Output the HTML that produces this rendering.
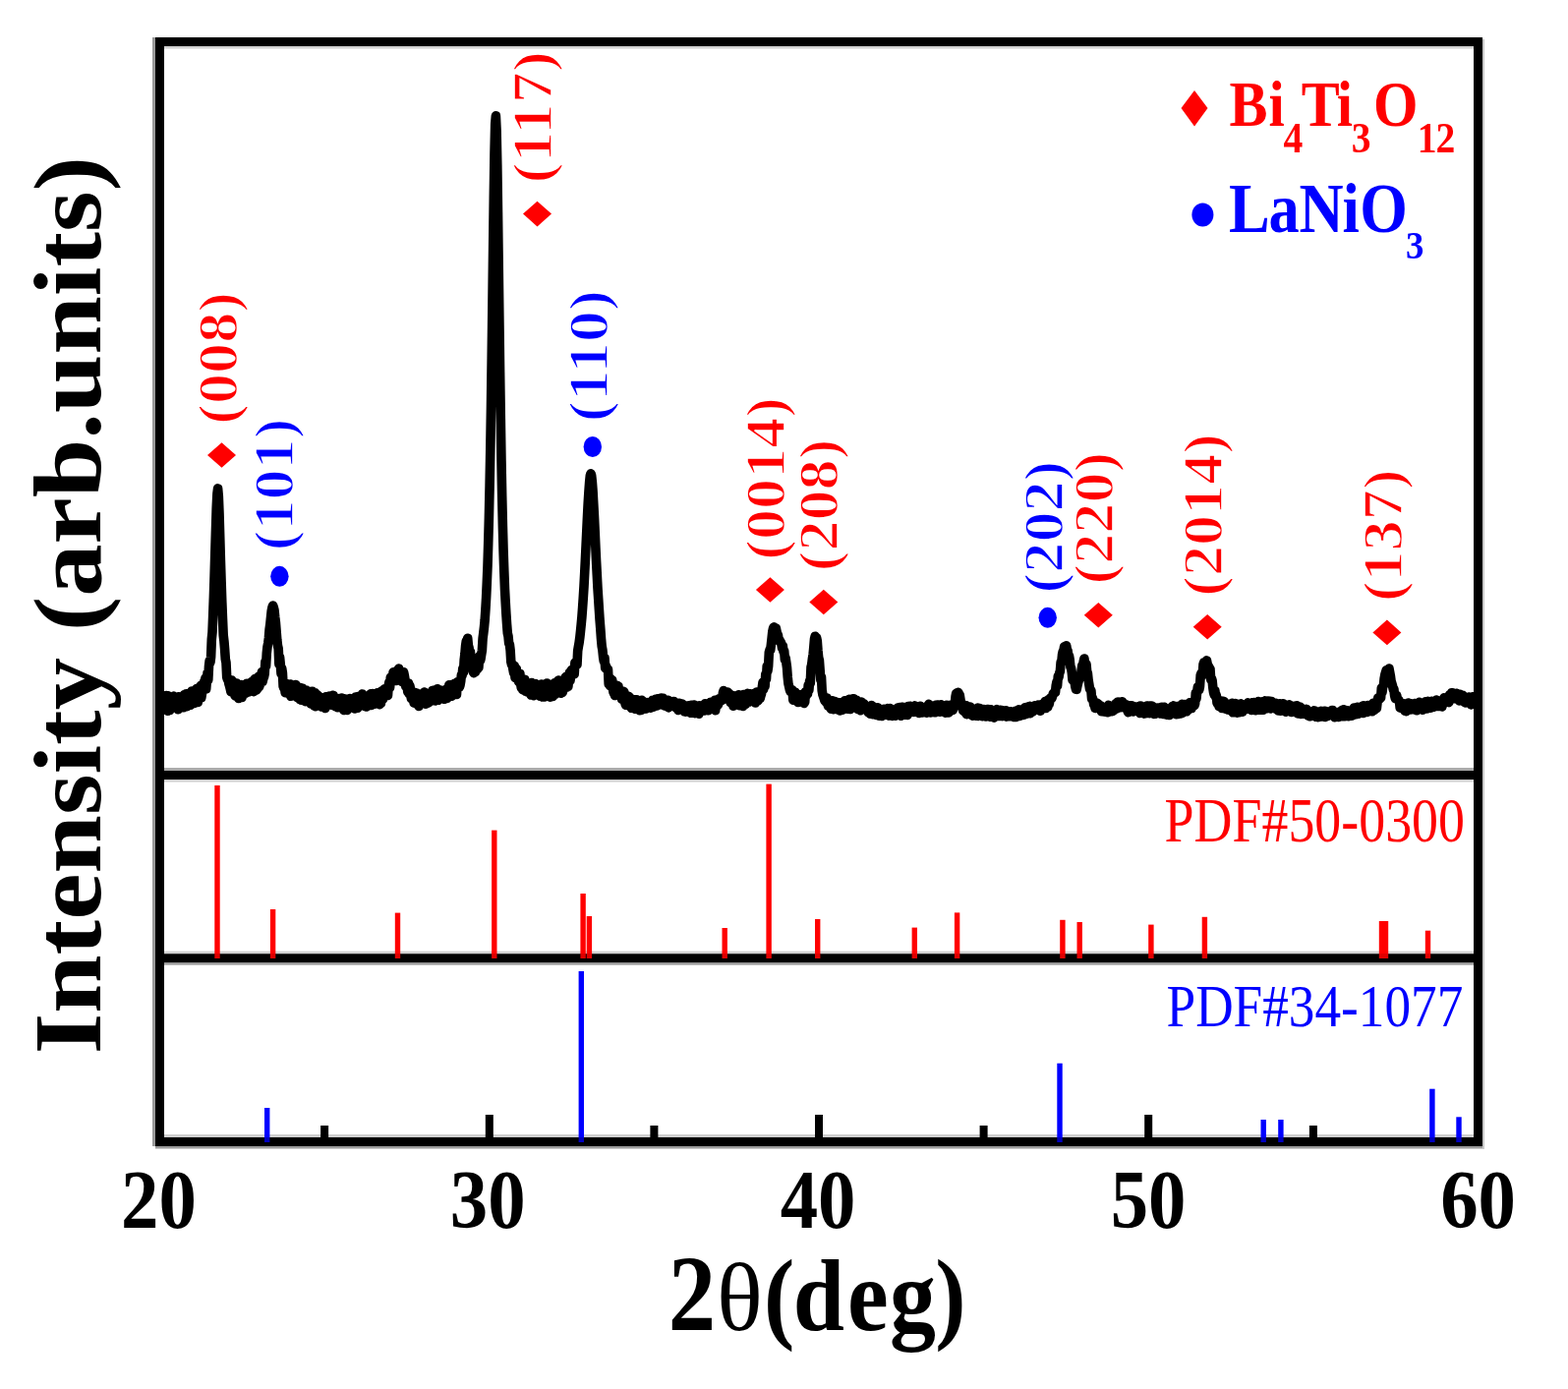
<!DOCTYPE html>
<html><head><meta charset="utf-8"><title>XRD pattern</title>
<style>html,body{margin:0;padding:0;background:#fff;overflow:hidden;}svg{display:block;}
text{font-family:"Liberation Serif","Times New Roman",serif;}
.b{font-weight:bold;}</style></head><body>
<svg width="1595" height="1413" viewBox="0 0 1595 1413">
<rect x="0" y="0" width="1595" height="1413" fill="#ffffff"/>
<rect x="155" y="38" width="3" height="1128" fill="#9a9a9a"/>
<rect x="158" y="1166" width="1352" height="2.5" fill="#9a9a9a"/>
<rect x="1508" y="40" width="2" height="1128" fill="#c8c8c8"/>
<rect x="167" y="47" width="1332" height="2.5" fill="#d0d0d0"/>
<rect x="167" y="781.2" width="1332" height="2.6" fill="#a0a0a0"/>
<rect x="167" y="793.1" width="1332" height="2.4" fill="#d0d0d0"/>
<rect x="167" y="967.6" width="1332" height="2.8" fill="#d0d0d0"/>
<rect x="167" y="979.3" width="1332" height="2.4" fill="#a0a0a0"/>
<rect x="167" y="1154" width="1332" height="3" fill="#d0d0d0"/>
<rect x="218.3" y="799" width="5.4" height="176.0" fill="#ff0000"/>
<rect x="274.9" y="925" width="5.4" height="50.0" fill="#ff0000"/>
<rect x="401.8" y="928.6" width="5.4" height="46.4" fill="#ff0000"/>
<rect x="500.1" y="844.6" width="5.4" height="130.4" fill="#ff0000"/>
<rect x="590.4" y="909" width="5.4" height="66.0" fill="#ff0000"/>
<rect x="596.7" y="932" width="5.4" height="43.0" fill="#ff0000"/>
<rect x="734.5" y="944" width="5.4" height="31.0" fill="#ff0000"/>
<rect x="779.4" y="797.6" width="5.4" height="177.4" fill="#ff0000"/>
<rect x="829.0" y="935" width="5.4" height="40.0" fill="#ff0000"/>
<rect x="927.6" y="943.6" width="5.4" height="31.4" fill="#ff0000"/>
<rect x="970.9" y="928.4" width="5.4" height="46.6" fill="#ff0000"/>
<rect x="1078.2" y="935.8" width="5.4" height="39.2" fill="#ff0000"/>
<rect x="1095.5" y="938" width="5.4" height="37.0" fill="#ff0000"/>
<rect x="1168.2" y="940.6" width="5.4" height="34.4" fill="#ff0000"/>
<rect x="1222.7" y="932.8" width="5.4" height="42.2" fill="#ff0000"/>
<rect x="1402.8" y="937" width="5.4" height="38.0" fill="#ff0000"/>
<rect x="1406.8" y="937" width="5.4" height="38.0" fill="#ff0000"/>
<rect x="1449.8" y="946.7" width="5.4" height="28.3" fill="#ff0000"/>
<rect x="269.0" y="1127" width="5.4" height="35.0" fill="#0000ff"/>
<rect x="588.6" y="988" width="5.4" height="174.0" fill="#0000ff"/>
<rect x="1075.3" y="1081.7" width="5.4" height="80.3" fill="#0000ff"/>
<rect x="1282.5" y="1139" width="5.4" height="23.0" fill="#0000ff"/>
<rect x="1300.2" y="1139" width="5.4" height="23.0" fill="#0000ff"/>
<rect x="1454.2" y="1107.7" width="5.4" height="54.3" fill="#0000ff"/>
<rect x="1481.3" y="1136.3" width="5.4" height="25.7" fill="#0000ff"/>
<path d="M167.0 709.1 L167.7 716.2 L168.4 719.0 L169.1 707.6 L169.8 709.0 L170.5 723.2 L171.2 707.8 L171.9 708.5 L172.6 722.5 L173.3 717.8 L174.0 711.5 L174.7 714.9 L175.4 717.8 L176.1 709.9 L176.8 708.1 L177.5 719.5 L178.2 717.9 L178.9 714.8 L179.6 719.9 L180.3 715.7 L181.0 721.8 L181.7 708.7 L182.4 715.8 L183.1 713.4 L183.8 710.7 L184.5 716.4 L185.2 708.9 L185.9 719.2 L186.6 719.8 L187.3 706.9 L188.0 711.8 L188.7 708.3 L189.4 705.7 L190.1 718.7 L190.8 710.0 L191.5 705.7 L192.2 715.0 L192.9 705.8 L193.6 717.2 L194.3 705.4 L195.0 703.0 L195.7 704.7 L196.4 706.3 L197.1 708.2 L197.8 715.4 L198.5 712.5 L199.2 704.9 L199.9 700.6 L200.6 701.8 L201.3 714.5 L202.0 705.3 L202.7 709.8 L203.4 698.5 L204.1 697.6 L204.8 709.7 L205.5 705.3 L206.2 698.4 L206.9 697.4 L207.6 693.4 L208.3 693.0 L209.0 689.7 L209.7 700.9 L210.4 691.8 L211.1 684.2 L211.8 691.6 L212.5 677.8 L213.2 671.9 L213.9 673.8 L214.6 668.3 L215.3 650.2 L216.0 643.1 L216.7 625.7 L217.4 607.2 L218.1 585.8 L218.8 562.5 L219.5 539.1 L220.2 516.8 L220.9 502.4 L221.6 496.9 L222.3 504.6 L223.0 521.9 L223.7 545.9 L224.4 570.1 L225.1 592.0 L225.8 612.6 L226.5 629.6 L227.2 646.1 L227.9 652.0 L228.6 660.4 L229.3 670.6 L230.0 673.9 L230.7 688.8 L231.4 691.1 L232.1 690.9 L232.8 695.3 L233.5 697.7 L234.2 700.5 L234.9 703.7 L235.6 692.0 L236.3 701.8 L237.0 693.6 L237.7 698.7 L238.4 706.0 L239.1 707.8 L239.8 706.6 L240.5 695.0 L241.2 699.4 L241.9 697.0 L242.6 710.4 L243.3 697.2 L244.0 698.5 L244.7 700.2 L245.4 696.6 L246.1 709.4 L246.8 706.4 L247.5 697.8 L248.2 703.2 L248.9 696.5 L249.6 705.3 L250.3 697.7 L251.0 695.3 L251.7 695.8 L252.4 702.9 L253.1 703.9 L253.8 697.2 L254.5 703.1 L255.2 696.7 L255.9 693.6 L256.6 695.2 L257.3 695.9 L258.0 703.6 L258.7 691.3 L259.4 690.4 L260.1 697.3 L260.8 702.0 L261.5 701.2 L262.2 698.5 L262.9 688.3 L263.6 698.8 L264.3 696.7 L265.0 686.9 L265.7 690.3 L266.4 683.5 L267.1 693.3 L267.8 690.3 L268.5 688.8 L269.2 685.3 L269.9 673.1 L270.6 677.6 L271.3 664.2 L272.0 657.9 L272.7 654.4 L273.4 649.0 L274.1 640.1 L274.8 635.2 L275.5 628.1 L276.2 621.4 L276.9 618.1 L277.6 616.0 L278.3 617.9 L279.0 620.7 L279.7 627.6 L280.4 633.1 L281.1 641.9 L281.8 650.8 L282.5 656.8 L283.2 659.8 L283.9 675.7 L284.6 668.7 L285.3 676.0 L286.0 685.3 L286.7 680.0 L287.4 684.4 L288.1 698.2 L288.8 700.1 L289.5 699.8 L290.2 704.7 L290.9 703.8 L291.6 695.6 L292.3 703.6 L293.0 697.4 L293.7 705.9 L294.4 698.9 L295.1 696.0 L295.8 708.3 L296.5 706.1 L297.2 707.0 L297.9 704.3 L298.6 707.7 L299.3 701.2 L300.0 704.6 L300.7 696.5 L301.4 705.2 L302.1 709.4 L302.8 708.3 L303.5 710.0 L304.2 704.8 L304.9 711.6 L305.6 699.5 L306.3 712.2 L307.0 703.5 L307.7 700.2 L308.4 709.7 L309.1 705.9 L309.8 705.6 L310.5 713.7 L311.2 702.1 L311.9 711.1 L312.6 706.5 L313.3 710.0 L314.0 709.2 L314.7 703.4 L315.4 710.3 L316.1 716.0 L316.8 704.7 L317.5 703.2 L318.2 704.1 L318.9 709.7 L319.6 718.1 L320.3 704.8 L321.0 718.7 L321.7 713.0 L322.4 706.4 L323.1 710.4 L323.8 707.9 L324.5 716.6 L325.2 714.2 L325.9 709.6 L326.6 709.5 L327.3 719.0 L328.0 718.1 L328.7 712.7 L329.4 712.4 L330.1 718.3 L330.8 720.5 L331.5 708.8 L332.2 709.5 L332.9 711.6 L333.6 714.3 L334.3 708.3 L335.0 708.1 L335.7 709.5 L336.4 711.3 L337.1 717.1 L337.8 715.4 L338.5 707.3 L339.2 707.4 L339.9 711.7 L340.6 718.1 L341.3 718.8 L342.0 711.2 L342.7 719.1 L343.4 719.8 L344.1 712.5 L344.8 718.6 L345.5 712.5 L346.2 710.3 L346.9 717.2 L347.6 710.1 L348.3 719.0 L349.0 721.0 L349.7 722.4 L350.4 715.3 L351.1 711.0 L351.8 722.1 L352.5 721.6 L353.2 722.4 L353.9 718.0 L354.6 719.0 L355.3 713.0 L356.0 710.5 L356.7 711.6 L357.4 719.0 L358.1 711.7 L358.8 718.4 L359.5 714.9 L360.2 713.2 L360.9 721.0 L361.6 709.1 L362.3 713.6 L363.0 708.7 L363.7 720.2 L364.4 713.2 L365.1 710.3 L365.8 708.1 L366.5 715.4 L367.2 710.8 L367.9 707.2 L368.6 706.0 L369.3 710.2 L370.0 714.5 L370.7 713.2 L371.4 718.6 L372.1 718.7 L372.8 719.0 L373.5 717.5 L374.2 711.7 L374.9 713.4 L375.6 710.2 L376.3 710.2 L377.0 705.8 L377.7 717.4 L378.4 708.0 L379.1 705.6 L379.8 711.3 L380.5 716.3 L381.2 710.6 L381.9 709.3 L382.6 715.2 L383.3 706.5 L384.0 704.8 L384.7 713.7 L385.4 712.3 L386.1 716.7 L386.8 708.7 L387.5 715.1 L388.2 703.0 L388.9 702.6 L389.6 711.0 L390.3 703.4 L391.0 700.9 L391.7 700.6 L392.4 702.6 L393.1 701.0 L393.8 704.6 L394.5 707.5 L395.2 697.5 L395.9 693.9 L396.6 699.3 L397.3 689.0 L398.0 691.9 L398.7 689.5 L399.4 689.1 L400.1 683.7 L400.8 690.3 L401.5 690.3 L402.2 691.0 L402.9 692.4 L403.6 682.4 L404.3 687.8 L405.0 683.1 L405.7 680.1 L406.4 690.5 L407.1 689.4 L407.8 692.2 L408.5 691.8 L409.2 693.8 L409.9 683.5 L410.6 683.7 L411.3 687.0 L412.0 691.3 L412.7 698.3 L413.4 694.9 L414.1 698.6 L414.8 703.9 L415.5 695.1 L416.2 705.9 L416.9 697.8 L417.6 701.3 L418.3 710.5 L419.0 711.2 L419.7 706.8 L420.4 706.1 L421.1 715.2 L421.8 706.8 L422.5 704.6 L423.2 707.2 L423.9 705.0 L424.6 716.6 L425.3 706.2 L426.0 718.4 L426.7 707.2 L427.4 708.2 L428.1 713.6 L428.8 708.0 L429.5 708.8 L430.2 705.3 L430.9 708.6 L431.6 704.1 L432.3 706.0 L433.0 716.2 L433.7 706.1 L434.4 705.8 L435.1 712.8 L435.8 714.9 L436.5 705.2 L437.2 706.1 L437.9 712.2 L438.6 712.8 L439.3 710.2 L440.0 702.4 L440.7 702.3 L441.4 711.6 L442.1 710.9 L442.8 712.9 L443.5 711.5 L444.2 704.7 L444.9 700.8 L445.6 712.3 L446.3 709.9 L447.0 707.9 L447.7 709.4 L448.4 703.1 L449.1 702.3 L449.8 707.2 L450.5 704.4 L451.2 708.8 L451.9 711.3 L452.6 710.1 L453.3 701.7 L454.0 701.2 L454.7 710.4 L455.4 701.1 L456.1 708.5 L456.8 696.9 L457.5 701.6 L458.2 703.5 L458.9 707.8 L459.6 708.3 L460.3 696.3 L461.0 704.3 L461.7 704.2 L462.4 695.3 L463.1 706.1 L463.8 701.6 L464.5 706.5 L465.2 693.7 L465.9 699.1 L466.6 693.8 L467.3 699.1 L468.0 697.1 L468.7 693.2 L469.4 686.6 L470.1 687.1 L470.8 680.0 L471.5 683.8 L472.2 671.1 L472.9 665.3 L473.6 656.9 L474.3 652.1 L475.0 655.0 L475.7 649.2 L476.4 656.7 L477.1 659.1 L477.8 667.6 L478.5 663.2 L479.2 677.6 L479.9 679.7 L480.6 679.7 L481.3 683.5 L482.0 684.7 L482.7 679.4 L483.4 683.5 L484.1 675.2 L484.8 671.9 L485.5 680.6 L486.2 674.7 L486.9 679.0 L487.6 667.5 L488.3 672.5 L489.0 670.4 L489.7 665.7 L490.4 661.4 L491.1 649.3 L491.8 644.0 L492.5 637.9 L493.2 630.5 L493.9 620.2 L494.6 608.0 L495.3 592.8 L496.0 575.9 L496.7 552.8 L497.4 526.6 L498.1 494.3 L498.8 457.2 L499.5 413.8 L500.2 364.0 L500.9 310.7 L501.6 254.2 L502.3 200.9 L503.0 155.7 L503.7 126.2 L504.4 117.9 L505.1 133.2 L505.8 167.5 L506.5 215.8 L507.2 271.5 L507.9 325.8 L508.6 378.4 L509.3 426.0 L510.0 469.1 L510.7 504.8 L511.4 535.3 L512.1 561.0 L512.8 581.0 L513.5 599.4 L514.2 612.6 L514.9 624.8 L515.6 635.2 L516.3 644.2 L517.0 647.1 L517.7 654.5 L518.4 655.6 L519.1 661.3 L519.8 673.1 L520.5 676.1 L521.2 675.6 L521.9 680.8 L522.6 684.5 L523.3 677.6 L524.0 689.5 L524.7 682.9 L525.4 680.6 L526.1 688.3 L526.8 690.7 L527.5 693.3 L528.2 694.1 L528.9 685.2 L529.6 695.5 L530.3 699.7 L531.0 697.5 L531.7 701.7 L532.4 696.1 L533.1 701.2 L533.8 691.3 L534.5 703.2 L535.2 696.1 L535.9 703.9 L536.6 695.3 L537.3 701.6 L538.0 704.7 L538.7 703.5 L539.4 702.6 L540.1 707.0 L540.8 694.5 L541.5 694.8 L542.2 702.4 L542.9 707.7 L543.6 704.9 L544.3 697.9 L545.0 695.6 L545.7 700.3 L546.4 701.1 L547.1 700.9 L547.8 704.6 L548.5 697.9 L549.2 708.1 L549.9 698.2 L550.6 696.0 L551.3 699.1 L552.0 709.0 L552.7 696.6 L553.4 698.0 L554.1 708.9 L554.8 699.0 L555.5 707.9 L556.2 695.1 L556.9 708.3 L557.6 697.2 L558.3 696.4 L559.0 706.3 L559.7 709.1 L560.4 708.6 L561.1 706.1 L561.8 707.9 L562.5 708.5 L563.2 702.6 L563.9 694.9 L564.6 706.4 L565.3 697.9 L566.0 696.4 L566.7 700.0 L567.4 692.6 L568.1 692.1 L568.8 694.7 L569.5 701.1 L570.2 703.0 L570.9 705.2 L571.6 703.3 L572.3 704.3 L573.0 700.1 L573.7 701.1 L574.4 698.5 L575.1 689.2 L575.8 688.4 L576.5 699.3 L577.2 688.8 L577.9 698.3 L578.6 691.3 L579.3 684.2 L580.0 692.3 L580.7 687.9 L581.4 681.6 L582.1 682.5 L582.8 681.6 L583.5 680.4 L584.2 685.7 L584.9 674.0 L585.6 675.3 L586.3 676.1 L587.0 676.0 L587.7 662.0 L588.4 657.7 L589.1 653.9 L589.8 648.7 L590.5 642.3 L591.2 635.2 L591.9 627.7 L592.6 618.2 L593.3 607.9 L594.0 596.6 L594.7 583.2 L595.4 569.2 L596.1 554.7 L596.8 540.2 L597.5 525.4 L598.2 512.1 L598.9 500.7 L599.6 491.0 L600.3 483.9 L601.0 481.7 L601.7 484.0 L602.4 490.7 L603.1 500.3 L603.8 513.3 L604.5 526.2 L605.2 541.2 L605.9 557.0 L606.6 571.4 L607.3 585.1 L608.0 598.6 L608.7 609.3 L609.4 620.3 L610.1 630.7 L610.8 639.7 L611.5 649.7 L612.2 657.4 L612.9 661.2 L613.6 668.4 L614.3 672.8 L615.0 669.2 L615.7 679.7 L616.4 677.2 L617.1 680.5 L617.8 680.3 L618.5 680.9 L619.2 695.7 L619.9 695.8 L620.6 697.8 L621.3 690.7 L622.0 693.9 L622.7 691.7 L623.4 700.6 L624.1 704.7 L624.8 704.9 L625.5 707.5 L626.2 697.4 L626.9 706.3 L627.6 697.2 L628.3 705.0 L629.0 698.3 L629.7 706.2 L630.4 706.9 L631.1 703.1 L631.8 703.8 L632.5 711.4 L633.2 707.4 L633.9 706.5 L634.6 703.4 L635.3 705.9 L636.0 715.6 L636.7 717.3 L637.4 708.7 L638.1 717.2 L638.8 717.6 L639.5 708.2 L640.2 709.3 L640.9 716.9 L641.6 710.6 L642.3 720.3 L643.0 712.2 L643.7 718.8 L644.4 718.9 L645.1 711.7 L645.8 721.2 L646.5 713.8 L647.2 711.9 L647.9 711.8 L648.6 716.6 L649.3 720.4 L650.0 715.0 L650.7 722.7 L651.4 714.8 L652.1 722.4 L652.8 712.4 L653.5 714.4 L654.2 713.3 L654.9 716.3 L655.6 714.9 L656.3 715.2 L657.0 721.1 L657.7 718.2 L658.4 718.4 L659.1 714.6 L659.8 720.0 L660.5 716.2 L661.2 719.0 L661.9 720.2 L662.6 717.3 L663.3 714.1 L664.0 712.2 L664.7 719.3 L665.4 717.9 L666.1 718.0 L666.8 711.2 L667.5 713.1 L668.2 717.9 L668.9 710.9 L669.6 717.0 L670.3 714.3 L671.0 710.7 L671.7 712.2 L672.4 710.1 L673.1 716.5 L673.8 717.1 L674.5 710.3 L675.2 712.5 L675.9 717.9 L676.6 712.0 L677.3 716.1 L678.0 718.7 L678.7 716.8 L679.4 712.2 L680.1 719.9 L680.8 719.0 L681.5 717.5 L682.2 714.6 L682.9 718.2 L683.6 715.6 L684.3 713.6 L685.0 713.9 L685.7 713.6 L686.4 714.6 L687.1 715.4 L687.8 720.2 L688.5 719.9 L689.2 720.2 L689.9 722.4 L690.6 715.3 L691.3 717.9 L692.0 715.6 L692.7 718.6 L693.4 716.0 L694.1 716.2 L694.8 716.6 L695.5 719.1 L696.2 723.8 L696.9 718.5 L697.6 724.1 L698.3 718.6 L699.0 719.2 L699.7 721.3 L700.4 717.8 L701.1 721.0 L701.8 723.2 L702.5 725.3 L703.2 717.4 L703.9 725.1 L704.6 722.9 L705.3 723.0 L706.0 717.0 L706.7 725.6 L707.4 718.7 L708.1 722.4 L708.8 722.2 L709.5 725.8 L710.2 723.0 L710.9 726.3 L711.6 717.8 L712.3 723.5 L713.0 722.5 L713.7 721.4 L714.4 723.0 L715.1 721.9 L715.8 718.3 L716.5 723.0 L717.2 715.8 L717.9 720.0 L718.6 719.4 L719.3 716.6 L720.0 721.7 L720.7 722.8 L721.4 715.3 L722.1 716.7 L722.8 714.3 L723.5 721.0 L724.2 714.0 L724.9 715.0 L725.6 717.3 L726.3 717.0 L727.0 712.3 L727.7 722.6 L728.4 713.2 L729.1 718.3 L729.8 711.9 L730.5 716.8 L731.2 711.8 L731.9 710.5 L732.6 711.7 L733.3 713.0 L734.0 712.1 L734.7 712.2 L735.4 704.9 L736.1 702.5 L736.8 703.6 L737.5 704.3 L738.2 709.3 L738.9 706.1 L739.6 705.5 L740.3 704.1 L741.0 711.8 L741.7 705.6 L742.4 711.7 L743.1 714.7 L743.8 714.3 L744.5 707.9 L745.2 710.2 L745.9 718.3 L746.6 707.8 L747.3 715.9 L748.0 711.6 L748.7 715.1 L749.4 710.9 L750.1 707.9 L750.8 714.2 L751.5 706.8 L752.2 717.6 L752.9 716.9 L753.6 710.3 L754.3 713.6 L755.0 713.3 L755.7 718.4 L756.4 706.5 L757.1 709.0 L757.8 710.2 L758.5 716.3 L759.2 715.6 L759.9 710.1 L760.6 705.4 L761.3 714.2 L762.0 709.3 L762.7 705.8 L763.4 713.4 L764.1 709.3 L764.8 707.1 L765.5 706.4 L766.2 710.6 L766.9 705.6 L767.6 707.1 L768.3 715.0 L769.0 707.7 L769.7 704.0 L770.4 708.3 L771.1 712.9 L771.8 711.7 L772.5 708.8 L773.2 710.4 L773.9 707.8 L774.6 705.6 L775.3 699.2 L776.0 694.1 L776.7 701.0 L777.4 697.4 L778.1 698.3 L778.8 685.8 L779.5 690.8 L780.2 677.6 L780.9 682.5 L781.6 677.8 L782.3 663.8 L783.0 661.1 L783.7 661.2 L784.4 655.6 L785.1 649.3 L785.8 642.6 L786.5 639.4 L787.2 637.9 L787.9 638.8 L788.6 638.8 L789.3 638.9 L790.0 642.3 L790.7 645.5 L791.4 645.8 L792.1 651.6 L792.8 650.6 L793.5 653.0 L794.2 653.2 L794.9 655.1 L795.6 659.4 L796.3 657.0 L797.0 662.9 L797.7 662.1 L798.4 671.1 L799.1 669.1 L799.8 674.0 L800.5 679.0 L801.2 688.4 L801.9 695.2 L802.6 698.3 L803.3 701.4 L804.0 703.5 L804.7 703.9 L805.4 702.1 L806.1 701.9 L806.8 712.1 L807.5 706.6 L808.2 711.6 L808.9 704.4 L809.6 707.8 L810.3 705.6 L811.0 708.4 L811.7 714.5 L812.4 708.7 L813.1 714.3 L813.8 706.8 L814.5 709.5 L815.2 709.8 L815.9 711.8 L816.6 707.5 L817.3 714.1 L818.0 715.4 L818.7 714.2 L819.4 703.7 L820.1 707.7 L820.8 704.0 L821.5 706.0 L822.2 696.8 L822.9 701.9 L823.6 692.7 L824.3 694.7 L825.0 678.6 L825.7 675.9 L826.4 670.0 L827.1 665.8 L827.8 658.5 L828.5 650.0 L829.2 647.2 L829.9 648.2 L830.6 648.6 L831.3 652.0 L832.0 661.9 L832.7 668.9 L833.4 671.7 L834.1 681.4 L834.8 691.8 L835.5 688.8 L836.2 702.7 L836.9 706.6 L837.6 708.5 L838.3 710.8 L839.0 712.9 L839.7 712.7 L840.4 714.6 L841.1 709.9 L841.8 716.1 L842.5 718.2 L843.2 715.5 L843.9 719.2 L844.6 715.8 L845.3 721.2 L846.0 720.7 L846.7 712.7 L847.4 721.7 L848.1 715.0 L848.8 713.4 L849.5 713.9 L850.2 716.0 L850.9 719.4 L851.6 716.0 L852.3 714.6 L853.0 722.2 L853.7 716.3 L854.4 722.9 L855.1 714.7 L855.8 721.0 L856.5 715.7 L857.2 722.2 L857.9 720.1 L858.6 720.3 L859.3 712.7 L860.0 720.8 L860.7 714.9 L861.4 720.4 L862.1 721.2 L862.8 712.4 L863.5 711.4 L864.2 719.9 L864.9 721.5 L865.6 720.8 L866.3 714.8 L867.0 720.0 L867.7 710.7 L868.4 710.8 L869.1 717.0 L869.8 716.0 L870.5 719.4 L871.2 712.4 L871.9 715.3 L872.6 721.5 L873.3 714.0 L874.0 715.4 L874.7 719.0 L875.4 722.7 L876.1 714.1 L876.8 720.8 L877.5 716.9 L878.2 717.1 L878.9 715.9 L879.6 718.5 L880.3 720.9 L881.0 718.1 L881.7 720.4 L882.4 722.5 L883.1 724.6 L883.8 722.1 L884.5 719.5 L885.2 726.3 L885.9 718.1 L886.6 717.5 L887.3 726.7 L888.0 719.8 L888.7 719.1 L889.4 721.5 L890.1 721.3 L890.8 721.5 L891.5 727.4 L892.2 721.0 L892.9 719.8 L893.6 720.5 L894.3 728.3 L895.0 722.6 L895.7 721.9 L896.4 727.1 L897.1 728.4 L897.8 724.3 L898.5 727.6 L899.2 721.3 L899.9 722.1 L900.6 725.5 L901.3 721.2 L902.0 721.6 L902.7 720.9 L903.4 721.5 L904.1 728.1 L904.8 727.8 L905.5 720.6 L906.2 722.5 L906.9 727.3 L907.6 728.4 L908.3 725.8 L909.0 727.4 L909.7 721.8 L910.4 727.9 L911.1 728.1 L911.8 723.1 L912.5 721.5 L913.2 720.0 L913.9 726.1 L914.6 726.1 L915.3 719.5 L916.0 724.5 L916.7 728.2 L917.4 719.4 L918.1 720.1 L918.8 719.5 L919.5 722.5 L920.2 721.9 L920.9 727.2 L921.6 719.2 L922.3 720.1 L923.0 727.4 L923.7 718.6 L924.4 720.3 L925.1 721.4 L925.8 718.3 L926.5 720.2 L927.2 724.2 L927.9 724.2 L928.6 724.0 L929.3 724.3 L930.0 723.9 L930.7 717.9 L931.4 724.2 L932.1 723.4 L932.8 719.0 L933.5 720.7 L934.2 719.0 L934.9 725.5 L935.6 719.2 L936.3 718.3 L937.0 724.8 L937.7 724.4 L938.4 725.0 L939.1 723.6 L939.8 720.1 L940.5 720.7 L941.2 722.2 L941.9 722.6 L942.6 725.2 L943.3 718.3 L944.0 723.9 L944.7 716.4 L945.4 717.6 L946.1 724.9 L946.8 717.9 L947.5 720.9 L948.2 724.5 L948.9 722.4 L949.6 720.0 L950.3 722.7 L951.0 724.8 L951.7 724.6 L952.4 717.2 L953.1 717.0 L953.8 718.2 L954.5 717.1 L955.2 723.7 L955.9 724.2 L956.6 717.3 L957.3 716.8 L958.0 718.8 L958.7 723.3 L959.4 724.0 L960.1 720.3 L960.8 723.0 L961.5 725.1 L962.2 724.9 L962.9 717.4 L963.6 723.6 L964.3 724.1 L965.0 725.0 L965.7 719.7 L966.4 717.3 L967.1 720.1 L967.8 718.6 L968.5 718.4 L969.2 722.5 L969.9 720.3 L970.6 719.1 L971.3 716.9 L972.0 708.8 L972.7 705.3 L973.4 704.9 L974.1 707.4 L974.8 704.4 L975.5 706.1 L976.2 706.8 L976.9 711.3 L977.6 715.9 L978.3 716.8 L979.0 720.3 L979.7 722.9 L980.4 722.6 L981.1 724.2 L981.8 717.5 L982.5 717.7 L983.2 726.6 L983.9 719.8 L984.6 720.6 L985.3 719.5 L986.0 725.2 L986.7 719.1 L987.4 726.9 L988.1 721.4 L988.8 726.8 L989.5 728.1 L990.2 726.6 L990.9 723.1 L991.6 726.1 L992.3 728.1 L993.0 727.0 L993.7 721.8 L994.4 720.1 L995.1 728.5 L995.8 726.5 L996.5 720.6 L997.2 725.8 L997.9 726.3 L998.6 722.5 L999.3 728.8 L1000.0 722.2 L1000.7 721.5 L1001.4 722.8 L1002.1 723.1 L1002.8 729.0 L1003.5 727.3 L1004.2 721.6 L1004.9 723.9 L1005.6 721.6 L1006.3 727.9 L1007.0 729.1 L1007.7 721.7 L1008.4 725.6 L1009.1 722.8 L1009.8 723.2 L1010.5 728.5 L1011.2 730.1 L1011.9 723.2 L1012.6 726.5 L1013.3 723.4 L1014.0 721.6 L1014.7 727.2 L1015.4 722.3 L1016.1 728.0 L1016.8 728.5 L1017.5 722.2 L1018.2 727.2 L1018.9 722.6 L1019.6 728.6 L1020.3 723.2 L1021.0 728.0 L1021.7 727.7 L1022.4 726.9 L1023.1 722.7 L1023.8 729.1 L1024.5 723.8 L1025.2 728.7 L1025.9 725.2 L1026.6 724.8 L1027.3 728.2 L1028.0 723.7 L1028.7 728.6 L1029.4 724.7 L1030.1 728.4 L1030.8 727.9 L1031.5 729.5 L1032.2 724.0 L1032.9 723.3 L1033.6 729.4 L1034.3 725.4 L1035.0 723.6 L1035.7 727.0 L1036.4 721.9 L1037.1 728.5 L1037.8 727.0 L1038.5 726.0 L1039.2 721.8 L1039.9 727.0 L1040.6 727.5 L1041.3 726.5 L1042.0 727.2 L1042.7 719.8 L1043.4 725.7 L1044.1 726.4 L1044.8 722.4 L1045.5 719.1 L1046.2 723.3 L1046.9 719.9 L1047.6 718.4 L1048.3 725.7 L1049.0 724.9 L1049.7 723.3 L1050.4 724.0 L1051.1 723.3 L1051.8 720.7 L1052.5 717.9 L1053.2 718.9 L1053.9 721.1 L1054.6 721.9 L1055.3 718.5 L1056.0 717.1 L1056.7 718.4 L1057.4 717.0 L1058.1 723.2 L1058.8 716.7 L1059.5 717.8 L1060.2 719.5 L1060.9 716.0 L1061.6 717.9 L1062.3 718.5 L1063.0 713.6 L1063.7 720.5 L1064.4 717.0 L1065.1 712.7 L1065.8 719.1 L1066.5 711.7 L1067.2 716.3 L1067.9 712.9 L1068.6 710.1 L1069.3 710.1 L1070.0 710.1 L1070.7 707.8 L1071.4 705.5 L1072.1 705.2 L1072.8 703.6 L1073.5 704.4 L1074.2 697.4 L1074.9 693.8 L1075.6 697.5 L1076.3 687.8 L1077.0 689.1 L1077.7 684.6 L1078.4 682.9 L1079.1 673.9 L1079.8 673.9 L1080.5 666.1 L1081.2 662.9 L1081.9 662.1 L1082.6 657.8 L1083.3 658.1 L1084.0 658.1 L1084.7 656.8 L1085.4 661.0 L1086.1 662.0 L1086.8 667.8 L1087.5 667.2 L1088.2 671.2 L1088.9 678.6 L1089.6 679.7 L1090.3 684.2 L1091.0 691.8 L1091.7 690.1 L1092.4 690.7 L1093.1 693.3 L1093.8 698.6 L1094.5 701.2 L1095.2 701.3 L1095.9 697.9 L1096.6 694.8 L1097.3 692.2 L1098.0 690.4 L1098.7 687.3 L1099.4 689.4 L1100.1 681.8 L1100.8 676.7 L1101.5 677.1 L1102.2 673.1 L1102.9 670.0 L1103.6 675.0 L1104.3 676.7 L1105.0 675.6 L1105.7 683.4 L1106.4 684.9 L1107.1 691.7 L1107.8 696.1 L1108.5 700.8 L1109.2 701.5 L1109.9 702.7 L1110.6 711.2 L1111.3 710.0 L1112.0 712.0 L1112.7 716.9 L1113.4 717.6 L1114.1 720.5 L1114.8 716.2 L1115.5 719.7 L1116.2 715.3 L1116.9 715.9 L1117.6 717.1 L1118.3 717.6 L1119.0 719.1 L1119.7 717.7 L1120.4 723.8 L1121.1 719.5 L1121.8 719.2 L1122.5 724.0 L1123.2 723.4 L1123.9 723.3 L1124.6 724.3 L1125.3 723.3 L1126.0 719.1 L1126.7 724.7 L1127.4 717.4 L1128.1 724.3 L1128.8 720.0 L1129.5 719.2 L1130.2 720.4 L1130.9 719.5 L1131.6 723.6 L1132.3 723.1 L1133.0 722.5 L1133.7 717.3 L1134.4 718.6 L1135.1 715.6 L1135.8 720.9 L1136.5 714.4 L1137.2 716.2 L1137.9 714.0 L1138.6 719.6 L1139.3 719.8 L1140.0 714.1 L1140.7 719.5 L1141.4 713.8 L1142.1 719.2 L1142.8 715.2 L1143.5 717.3 L1144.2 720.1 L1144.9 717.5 L1145.6 716.9 L1146.3 721.2 L1147.0 723.2 L1147.7 724.7 L1148.4 719.0 L1149.1 718.7 L1149.8 717.7 L1150.5 718.7 L1151.2 717.7 L1151.9 719.1 L1152.6 724.0 L1153.3 718.4 L1154.0 723.5 L1154.7 719.7 L1155.4 719.2 L1156.1 721.5 L1156.8 721.0 L1157.5 721.1 L1158.2 718.6 L1158.9 723.0 L1159.6 725.5 L1160.3 718.0 L1161.0 718.4 L1161.7 723.2 L1162.4 720.0 L1163.1 719.5 L1163.8 726.1 L1164.5 719.9 L1165.2 725.7 L1165.9 723.5 L1166.6 718.0 L1167.3 719.6 L1168.0 718.3 L1168.7 722.7 L1169.4 725.6 L1170.1 718.1 L1170.8 718.0 L1171.5 718.0 L1172.2 719.7 L1172.9 718.9 L1173.6 726.4 L1174.3 725.1 L1175.0 726.3 L1175.7 723.6 L1176.4 725.7 L1177.1 724.9 L1177.8 720.0 L1178.5 724.5 L1179.2 720.0 L1179.9 721.9 L1180.6 726.0 L1181.3 719.5 L1182.0 719.2 L1182.7 726.4 L1183.4 722.0 L1184.1 719.2 L1184.8 720.4 L1185.5 720.1 L1186.2 727.0 L1186.9 722.3 L1187.6 727.3 L1188.3 722.3 L1189.0 727.5 L1189.7 727.4 L1190.4 724.2 L1191.1 726.3 L1191.8 720.0 L1192.5 718.5 L1193.2 724.4 L1193.9 717.9 L1194.6 721.8 L1195.3 724.4 L1196.0 725.8 L1196.7 726.7 L1197.4 718.6 L1198.1 726.4 L1198.8 721.9 L1199.5 723.9 L1200.2 721.0 L1200.9 725.9 L1201.6 718.9 L1202.3 716.3 L1203.0 725.4 L1203.7 723.7 L1204.4 724.1 L1205.1 716.6 L1205.8 717.1 L1206.5 722.7 L1207.2 723.7 L1207.9 722.6 L1208.6 721.6 L1209.3 721.9 L1210.0 714.9 L1210.7 717.6 L1211.4 715.5 L1212.1 720.6 L1212.8 717.1 L1213.5 718.7 L1214.2 717.3 L1214.9 717.8 L1215.6 715.9 L1216.3 704.9 L1217.0 710.4 L1217.7 703.6 L1218.4 698.6 L1219.1 699.9 L1219.8 701.8 L1220.5 698.3 L1221.2 687.0 L1221.9 684.9 L1222.6 687.7 L1223.3 686.6 L1224.0 675.9 L1224.7 673.9 L1225.4 677.7 L1226.1 675.9 L1226.8 676.9 L1227.5 671.9 L1228.2 675.4 L1228.9 680.1 L1229.6 678.0 L1230.3 680.7 L1231.0 680.5 L1231.7 691.5 L1232.4 690.1 L1233.1 692.2 L1233.8 699.5 L1234.5 704.2 L1235.2 706.9 L1235.9 702.7 L1236.6 709.1 L1237.3 707.3 L1238.0 715.0 L1238.7 716.1 L1239.4 716.1 L1240.1 718.7 L1240.8 716.1 L1241.5 717.8 L1242.2 713.1 L1242.9 720.5 L1243.6 715.2 L1244.3 719.7 L1245.0 713.4 L1245.7 717.2 L1246.4 721.1 L1247.1 721.4 L1247.8 720.8 L1248.5 716.4 L1249.2 722.1 L1249.9 722.2 L1250.6 721.5 L1251.3 718.0 L1252.0 715.9 L1252.7 721.2 L1253.4 715.2 L1254.1 724.8 L1254.8 717.9 L1255.5 717.2 L1256.2 719.1 L1256.9 715.6 L1257.6 724.5 L1258.3 725.1 L1259.0 723.9 L1259.7 721.3 L1260.4 724.7 L1261.1 717.5 L1261.8 719.0 L1262.5 715.9 L1263.2 718.4 L1263.9 724.3 L1264.6 722.0 L1265.3 720.5 L1266.0 720.3 L1266.7 721.5 L1267.4 721.2 L1268.1 718.4 L1268.8 719.6 L1269.5 714.9 L1270.2 718.1 L1270.9 721.5 L1271.6 715.7 L1272.3 716.2 L1273.0 722.4 L1273.7 714.9 L1274.4 715.3 L1275.1 722.3 L1275.8 714.6 L1276.5 716.0 L1277.2 722.7 L1277.9 717.0 L1278.6 721.9 L1279.3 721.4 L1280.0 713.6 L1280.7 715.0 L1281.4 722.2 L1282.1 715.7 L1282.8 716.5 L1283.5 722.2 L1284.2 713.8 L1284.9 722.2 L1285.6 719.6 L1286.3 719.4 L1287.0 712.9 L1287.7 719.3 L1288.4 720.8 L1289.1 715.7 L1289.8 713.1 L1290.5 713.6 L1291.2 713.3 L1291.9 716.2 L1292.6 720.9 L1293.3 713.6 L1294.0 716.4 L1294.7 716.5 L1295.4 716.6 L1296.1 718.7 L1296.8 719.0 L1297.5 715.3 L1298.2 721.6 L1298.9 719.0 L1299.6 716.8 L1300.3 723.0 L1301.0 721.3 L1301.7 715.7 L1302.4 723.3 L1303.1 720.5 L1303.8 717.4 L1304.5 716.7 L1305.2 715.7 L1305.9 717.0 L1306.6 717.5 L1307.3 718.0 L1308.0 724.2 L1308.7 721.4 L1309.4 717.3 L1310.1 718.7 L1310.8 719.4 L1311.5 716.9 L1312.2 720.1 L1312.9 721.0 L1313.6 724.5 L1314.3 720.0 L1315.0 723.2 L1315.7 723.2 L1316.4 718.3 L1317.1 722.5 L1317.8 720.7 L1318.5 718.6 L1319.2 717.9 L1319.9 725.9 L1320.6 718.6 L1321.3 725.6 L1322.0 720.8 L1322.7 719.1 L1323.4 726.5 L1324.1 724.7 L1324.8 721.9 L1325.5 726.3 L1326.2 725.6 L1326.9 722.6 L1327.6 726.0 L1328.3 726.3 L1329.0 721.4 L1329.7 726.5 L1330.4 727.9 L1331.1 726.6 L1331.8 727.5 L1332.5 728.8 L1333.2 727.9 L1333.9 724.9 L1334.6 726.5 L1335.3 728.2 L1336.0 727.4 L1336.7 722.9 L1337.4 723.0 L1338.1 724.4 L1338.8 729.3 L1339.5 724.5 L1340.2 725.2 L1340.9 729.6 L1341.6 724.0 L1342.3 724.8 L1343.0 724.6 L1343.7 723.4 L1344.4 728.9 L1345.1 724.9 L1345.8 725.6 L1346.5 724.9 L1347.2 723.3 L1347.9 729.4 L1348.6 723.6 L1349.3 724.4 L1350.0 728.5 L1350.7 724.8 L1351.4 726.5 L1352.1 724.6 L1352.8 727.1 L1353.5 724.4 L1354.2 725.5 L1354.9 722.5 L1355.6 722.5 L1356.3 726.3 L1357.0 728.8 L1357.7 729.7 L1358.4 728.6 L1359.1 726.4 L1359.8 727.4 L1360.5 727.6 L1361.2 728.0 L1361.9 729.5 L1362.6 724.0 L1363.3 724.8 L1364.0 728.1 L1364.7 723.0 L1365.4 722.2 L1366.1 728.7 L1366.8 721.7 L1367.5 728.6 L1368.2 728.7 L1368.9 722.4 L1369.6 727.6 L1370.3 723.0 L1371.0 722.8 L1371.7 728.7 L1372.4 728.0 L1373.1 727.1 L1373.8 723.6 L1374.5 728.2 L1375.2 725.2 L1375.9 727.9 L1376.6 726.2 L1377.3 720.1 L1378.0 726.5 L1378.7 726.6 L1379.4 726.7 L1380.1 724.8 L1380.8 719.3 L1381.5 726.2 L1382.2 721.7 L1382.9 719.8 L1383.6 719.7 L1384.3 719.5 L1385.0 725.2 L1385.7 718.4 L1386.4 725.5 L1387.1 717.7 L1387.8 723.9 L1388.5 718.7 L1389.2 721.6 L1389.9 718.0 L1390.6 724.5 L1391.3 717.6 L1392.0 720.1 L1392.7 722.0 L1393.4 719.7 L1394.1 717.5 L1394.8 717.8 L1395.5 723.7 L1396.2 716.2 L1396.9 715.3 L1397.6 722.7 L1398.3 722.1 L1399.0 720.1 L1399.7 716.7 L1400.4 720.4 L1401.1 714.1 L1401.8 709.9 L1402.5 711.5 L1403.2 711.4 L1403.9 709.5 L1404.6 709.9 L1405.3 699.9 L1406.0 704.3 L1406.7 698.4 L1407.4 697.3 L1408.1 690.4 L1408.8 686.5 L1409.5 684.2 L1410.2 681.7 L1410.9 681.7 L1411.6 682.8 L1412.3 684.5 L1413.0 680.1 L1413.7 683.8 L1414.4 687.6 L1415.1 692.8 L1415.8 695.1 L1416.5 697.5 L1417.2 701.0 L1417.9 700.9 L1418.6 707.6 L1419.3 710.3 L1420.0 710.2 L1420.7 707.4 L1421.4 711.6 L1422.1 711.5 L1422.8 712.1 L1423.5 713.8 L1424.2 720.1 L1424.9 715.6 L1425.6 716.9 L1426.3 716.8 L1427.0 715.5 L1427.7 720.0 L1428.4 717.8 L1429.1 723.3 L1429.8 721.0 L1430.5 723.7 L1431.2 722.9 L1431.9 719.1 L1432.6 715.0 L1433.3 716.3 L1434.0 715.7 L1434.7 721.9 L1435.4 715.7 L1436.1 721.0 L1436.8 717.0 L1437.5 718.6 L1438.2 721.8 L1438.9 716.6 L1439.6 715.5 L1440.3 716.3 L1441.0 722.8 L1441.7 719.5 L1442.4 716.1 L1443.1 715.0 L1443.8 714.4 L1444.5 716.2 L1445.2 719.8 L1445.9 717.3 L1446.6 721.2 L1447.3 722.3 L1448.0 719.0 L1448.7 715.8 L1449.4 720.7 L1450.1 713.7 L1450.8 720.3 L1451.5 721.0 L1452.2 720.2 L1452.9 713.4 L1453.6 718.3 L1454.3 720.1 L1455.0 715.5 L1455.7 720.1 L1456.4 713.3 L1457.1 717.1 L1457.8 717.4 L1458.5 719.3 L1459.2 714.8 L1459.9 713.4 L1460.6 718.4 L1461.3 712.1 L1462.0 714.0 L1462.7 715.0 L1463.4 718.5 L1464.1 714.2 L1464.8 716.3 L1465.5 717.3 L1466.2 717.1 L1466.9 719.0 L1467.6 713.9 L1468.3 715.6 L1469.0 709.9 L1469.7 710.8 L1470.4 710.9 L1471.1 710.2 L1471.8 713.3 L1472.5 709.3 L1473.2 713.0 L1473.9 714.6 L1474.6 706.8 L1475.3 707.3 L1476.0 709.3 L1476.7 704.7 L1477.4 704.7 L1478.1 708.8 L1478.8 705.7 L1479.5 710.6 L1480.2 707.9 L1480.9 709.6 L1481.6 705.2 L1482.3 705.8 L1483.0 711.4 L1483.7 710.1 L1484.4 712.9 L1485.1 706.9 L1485.8 706.4 L1486.5 712.7 L1487.2 707.3 L1487.9 707.3 L1488.6 710.0 L1489.3 714.0 L1490.0 710.2 L1490.7 714.9 L1491.4 711.5 L1492.1 710.0 L1492.8 713.2 L1493.5 714.0 L1494.2 709.1 L1494.9 713.9 L1495.6 709.4 L1496.3 716.9 L1497.0 713.4 L1497.7 709.8 L1498.4 708.7" fill="none" stroke="#000" stroke-width="9.6" stroke-linejoin="round" stroke-linecap="round"/>
<rect x="162.5" y="42.5" width="1341" height="1119" fill="none" stroke="#000" stroke-width="9"/>
<line x1="158" y1="788.5" x2="1508" y2="788.5" stroke="#000" stroke-width="9"/>
<line x1="158" y1="974.8" x2="1508" y2="974.8" stroke="#000" stroke-width="9"/>
<rect x="218.3" y="970" width="5.4" height="5" fill="#e00000"/>
<rect x="274.9" y="970" width="5.4" height="5" fill="#e00000"/>
<rect x="401.8" y="970" width="5.4" height="5" fill="#e00000"/>
<rect x="500.1" y="970" width="5.4" height="5" fill="#e00000"/>
<rect x="590.4" y="970" width="5.4" height="5" fill="#e00000"/>
<rect x="596.7" y="970" width="5.4" height="5" fill="#e00000"/>
<rect x="734.5" y="970" width="5.4" height="5" fill="#e00000"/>
<rect x="779.4" y="970" width="5.4" height="5" fill="#e00000"/>
<rect x="829.0" y="970" width="5.4" height="5" fill="#e00000"/>
<rect x="927.6" y="970" width="5.4" height="5" fill="#e00000"/>
<rect x="970.9" y="970" width="5.4" height="5" fill="#e00000"/>
<rect x="1078.2" y="970" width="5.4" height="5" fill="#e00000"/>
<rect x="1095.5" y="970" width="5.4" height="5" fill="#e00000"/>
<rect x="1168.2" y="970" width="5.4" height="5" fill="#e00000"/>
<rect x="1222.7" y="970" width="5.4" height="5" fill="#e00000"/>
<rect x="1402.8" y="970" width="5.4" height="5" fill="#e00000"/>
<rect x="1406.8" y="970" width="5.4" height="5" fill="#e00000"/>
<rect x="1449.8" y="970" width="5.4" height="5" fill="#e00000"/>
<rect x="269.0" y="1157" width="5.4" height="5" fill="#0000c0"/>
<rect x="588.6" y="1157" width="5.4" height="5" fill="#0000c0"/>
<rect x="1075.3" y="1157" width="5.4" height="5" fill="#0000c0"/>
<rect x="1282.5" y="1157" width="5.4" height="5" fill="#0000c0"/>
<rect x="1300.2" y="1157" width="5.4" height="5" fill="#0000c0"/>
<rect x="1454.2" y="1157" width="5.4" height="5" fill="#0000c0"/>
<rect x="1481.3" y="1157" width="5.4" height="5" fill="#0000c0"/>
<rect x="493.8" y="1134" width="8" height="24" fill="#000"/>
<rect x="829.0" y="1134" width="8" height="24" fill="#000"/>
<rect x="1164.2" y="1134" width="8" height="24" fill="#000"/>
<rect x="326.1" y="1145" width="8" height="13" fill="#000"/>
<rect x="661.4" y="1145" width="8" height="13" fill="#000"/>
<rect x="996.6" y="1145" width="8" height="13" fill="#000"/>
<rect x="1331.9" y="1145" width="8" height="13" fill="#000"/>
<text class="b" font-size="97.4" transform="translate(101.8,1072.3) rotate(-90) scale(1.096,1)">Intensity (arb.units)</text>
<text class="b" font-size="85.3" text-anchor="middle" transform="translate(161.4,1248.7) scale(0.9,1)">20</text>
<text class="b" font-size="85.3" text-anchor="middle" transform="translate(496.2,1248.7) scale(0.9,1)">30</text>
<text class="b" font-size="85.3" text-anchor="middle" transform="translate(832,1248.7) scale(0.9,1)">40</text>
<text class="b" font-size="85.3" text-anchor="middle" transform="translate(1168,1248.7) scale(0.9,1)">50</text>
<text class="b" font-size="85.3" text-anchor="middle" transform="translate(1503.5,1248.7) scale(0.9,1)">60</text>
<text class="b" font-size="109.4" fill="#000" x="769.93" y="0" transform="translate(0,1352.7) scale(0.883,1)">2</text>
<text font-weight="normal" font-size="97.7" fill="#000" x="729.09" y="0" transform="translate(0,1352.8) scale(1.0,1)">θ</text>
<text class="b" font-size="104.3" fill="#000" x="863.36 896.47 957.86 1005.45 1057.02" y="0" transform="translate(0,1352.7) scale(0.9,1)">(deg)</text>
<polygon points="1215,92 1228.5,110 1215,128.4 1201.5,110" fill="#ff0000"/>
<text class="b" font-size="66.4" fill="#ff0000" x="1420.90 1466.61 1504.37 1545.25 1587.41" y="0" transform="translate(0,128) scale(0.88,1)">BiTiO</text>
<text class="b" font-size="44" fill="#ff0000" x="1450.61 1527.48" y="0" transform="translate(0,155.3) scale(0.9,1)">43</text>
<text class="b" font-size="44" fill="#ff0000" x="1602.04 1622.69" y="0" transform="translate(0,155.3) scale(0.9,1)">12</text>
<ellipse cx="1223.4" cy="218.6" rx="11" ry="12" fill="#0000ff"/>
<text class="b" font-size="72.7" fill="#0000ff" x="1453.40 1500.45 1536.50 1587.89 1608.47" y="0" transform="translate(0,236.4) scale(0.86,1)">LaNiO</text>
<text class="b" font-size="41" fill="#0000ff" x="1588.90" y="0" transform="translate(0,262.7) scale(0.9,1)">3</text>
<text font-size="63.4" fill="#ff0000" text-anchor="end" transform="translate(1490,855.5) scale(0.85,1)">PDF#50-0300</text>
<text font-size="62" fill="#0000ff" text-anchor="end" transform="translate(1488.3,1044.2) scale(0.859,1)">PDF#34-1077</text>
<text class="b" font-size="56.8" fill="#ff0000" stroke="#fff" stroke-width="1.6" transform="translate(240.5,431.7) rotate(-90) scale(1.095,1)">(008)</text>
<polygon points="225.5,450.2 240.0,463 225.5,475.8 211.0,463" fill="#ff0000"/>
<text class="b" font-size="56.8" fill="#0000ff" stroke="#fff" stroke-width="1.6" transform="translate(297.5,560.3) rotate(-90) scale(1.095,1)">(101)</text>
<ellipse cx="284.4" cy="586.3" rx="9.2" ry="10.5" fill="#0000ff"/>
<text class="b" font-size="56.8" fill="#ff0000" stroke="#fff" stroke-width="1.6" transform="translate(561.0,186.4) rotate(-90) scale(1.12,1)">(117)</text>
<polygon points="546.5,204.8 561.0,217.6 546.5,230.4 532.0,217.6" fill="#ff0000"/>
<text class="b" font-size="56.8" fill="#0000ff" stroke="#fff" stroke-width="1.6" transform="translate(617.6,429.3) rotate(-90) scale(1.12,1)">(110)</text>
<ellipse cx="602.8" cy="454.5" rx="9.2" ry="10.5" fill="#0000ff"/>
<text class="b" font-size="56.8" fill="#ff0000" stroke="#fff" stroke-width="1.6" transform="translate(798.0,569.7) rotate(-90) scale(1.095,1)">(0014)</text>
<polygon points="783.4,587.2 797.9,600 783.4,612.8 768.9,600" fill="#ff0000"/>
<text class="b" font-size="56.8" fill="#ff0000" stroke="#fff" stroke-width="1.6" transform="translate(852.4,581.3) rotate(-90) scale(1.095,1)">(208)</text>
<polygon points="837.8,599.7 852.3,612.5 837.8,625.3 823.3,612.5" fill="#ff0000"/>
<text class="b" font-size="56.8" fill="#0000ff" stroke="#fff" stroke-width="1.6" transform="translate(1080.5,603.4) rotate(-90) scale(1.095,1)">(202)</text>
<ellipse cx="1065.7" cy="628.3" rx="9.2" ry="10.5" fill="#0000ff"/>
<text class="b" font-size="56.8" fill="#ff0000" stroke="#fff" stroke-width="1.6" transform="translate(1131.8,594.5) rotate(-90) scale(1.095,1)">(220)</text>
<polygon points="1117.3,612.9 1131.8,625.7 1117.3,638.5 1102.8,625.7" fill="#ff0000"/>
<text class="b" font-size="56.8" fill="#ff0000" stroke="#fff" stroke-width="1.6" transform="translate(1242.8,606.8) rotate(-90) scale(1.095,1)">(2014)</text>
<polygon points="1228.2,624.9 1242.7,637.7 1228.2,650.5 1213.7,637.7" fill="#ff0000"/>
<text class="b" font-size="56.8" fill="#ff0000" stroke="#fff" stroke-width="1.6" transform="translate(1425.9,612.1) rotate(-90) scale(1.095,1)">(137)</text>
<polygon points="1410.9,630.6 1425.4,643.4 1410.9,656.2 1396.4,643.4" fill="#ff0000"/>
</svg>
</body></html>
